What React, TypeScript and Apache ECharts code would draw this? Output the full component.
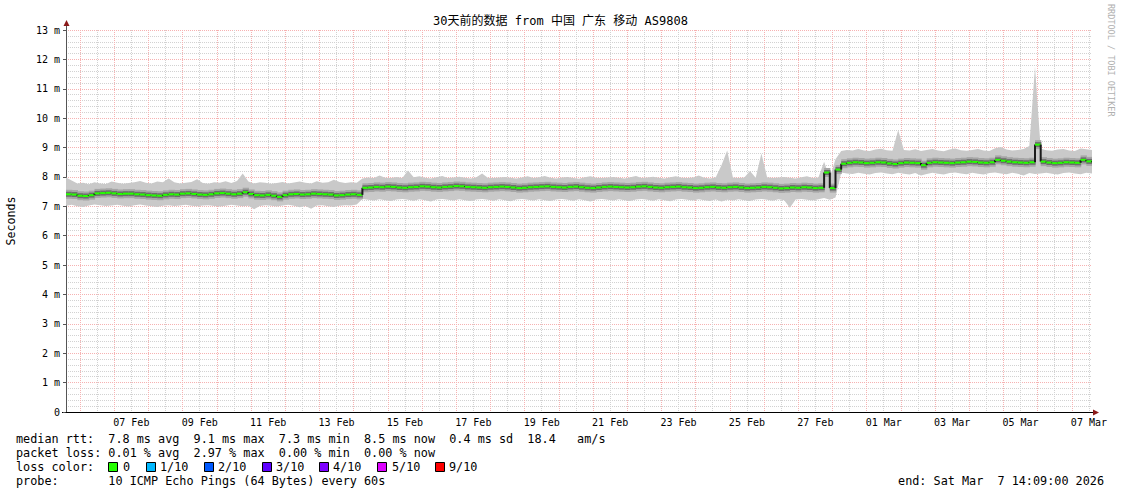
import { useEffect, useRef } from 'react';
import * as echarts from 'echarts';

const TITLE = '30天前的数据 from 中国 广东 移动 AS9808';
const WATERMARK = 'RRDTOOL / TOBI OETIKER';
const Y_NAME = 'Seconds';
// time axis in hours after Feb 5 00:00 (2026)
const START_HOUR = 14.15; // Feb 5 14:09
const END_HOUR = 734.15; // Mar 7 14:09
const STEP_HOURS = 4;

const xLabels = ['07 Feb', '09 Feb', '11 Feb', '13 Feb', '15 Feb', '17 Feb', '19 Feb', '21 Feb', '23 Feb', '25 Feb', '27 Feb', '01 Mar', '03 Mar', '05 Mar', '07 Mar'];
const xLabelHours = [60, 108, 156, 204, 252, 300, 348, 396, 444, 492, 540, 588, 636, 684, 732];
const dayLineHours = [24, 48, 72, 96, 120, 144, 168, 192, 216, 240, 264, 288, 312, 336, 360, 384, 408, 432, 456, 480, 504, 528, 552, 576, 600, 624, 648, 672, 696, 720];
const halfDayLineHours = [36, 60, 84, 108, 132, 156, 180, 204, 228, 252, 276, 300, 324, 348, 372, 396, 420, 444, 468, 492, 516, 540, 564, 588, 612, 636, 660, 684, 708, 732];

// median rtt in ms, one value every 4 hours
const medianRtt = [
  7.41, 7.40, 7.36, 7.35, 7.38, 7.44, 7.45, 7.46, 7.44, 7.42,
  7.43, 7.43, 7.41, 7.40, 7.38, 7.37, 7.36, 7.39, 7.41, 7.40,
  7.43, 7.44, 7.42, 7.40, 7.39, 7.41, 7.44, 7.45, 7.43, 7.41,
  7.43, 7.48, 7.42, 7.38, 7.37, 7.39, 7.36, 7.32, 7.38, 7.41,
  7.42, 7.40, 7.41, 7.43, 7.42, 7.41, 7.40, 7.37, 7.38, 7.40,
  7.41, 7.39, 7.63, 7.64, 7.66, 7.65, 7.67, 7.66, 7.64, 7.63,
  7.65, 7.66, 7.68, 7.67, 7.65, 7.64, 7.66, 7.67, 7.69, 7.68,
  7.66, 7.65, 7.64, 7.63, 7.65, 7.66, 7.67, 7.66, 7.64, 7.62,
  7.63, 7.65, 7.66, 7.67, 7.68, 7.66, 7.65, 7.64, 7.66, 7.67,
  7.65, 7.63, 7.62, 7.64, 7.66, 7.67, 7.66, 7.65, 7.64, 7.65,
  7.67, 7.68, 7.66, 7.64, 7.63, 7.65, 7.66, 7.67, 7.65, 7.64,
  7.62, 7.63, 7.65, 7.66, 7.64, 7.63, 7.65, 7.66, 7.64, 7.62,
  7.63, 7.64, 7.66, 7.65, 7.63, 7.61, 7.62, 7.64, 7.63, 7.65,
  7.64, 7.62, 7.63, 8.15, 7.62, 8.25, 8.45, 8.48, 8.50, 8.49,
  8.47, 8.48, 8.50, 8.49, 8.46, 8.44, 8.47, 8.49, 8.48, 8.47,
  8.40, 8.48, 8.50, 8.49, 8.48, 8.47, 8.49, 8.50, 8.52, 8.51,
  8.49, 8.48, 8.50, 8.58, 8.55, 8.52, 8.50, 8.49, 8.48, 8.50,
  9.10, 8.52, 8.49, 8.47, 8.48, 8.50, 8.49, 8.48, 8.58, 8.53,
  8.50,
];

// upper edge of the smoke (highest ping) in ms
const smokeHi = [
  7.98, 7.88, 7.78, 7.80, 7.75, 7.82, 7.78, 7.76, 7.84, 7.80,
  7.77, 7.79, 7.82, 7.86, 7.80, 7.78, 7.84, 7.82, 7.95, 7.82,
  7.78, 7.80, 7.83, 7.92, 7.79, 7.77, 7.82, 7.80, 7.85, 7.79,
  7.86, 8.12, 7.84, 7.78, 7.82, 7.80, 7.77, 7.79, 7.83, 7.78,
  7.81, 7.84, 7.80, 7.78, 7.85, 7.80, 7.82, 7.90, 7.83, 7.79,
  7.82, 7.80, 7.95, 7.98, 7.96, 8.05, 7.97, 7.96, 8.00, 7.96,
  8.22, 7.99, 8.02, 7.97, 7.95, 7.99, 8.03, 7.96, 7.98, 8.01,
  7.97, 7.95, 7.99, 8.12, 7.97, 7.96, 7.98, 8.00, 7.97, 7.95,
  7.98, 8.02, 7.96, 7.99, 8.03, 7.97, 7.95, 7.98, 8.00, 7.96,
  7.94, 7.99, 8.02, 7.97, 7.96, 7.98, 8.00, 7.97, 7.95, 7.99,
  8.03, 7.96, 7.98, 8.01, 7.97, 7.95, 7.99, 8.02, 7.97, 7.96,
  7.98, 8.05, 7.97, 7.95, 7.99, 8.40, 8.90, 7.98, 7.96, 7.98,
  8.20, 7.97, 8.80, 7.99, 7.96, 7.98, 8.00, 7.97, 7.95, 7.99,
  8.02, 7.96, 7.98, 8.52, 7.98, 8.60, 8.88, 8.92, 8.90, 8.95,
  8.90, 8.88, 8.93, 8.96, 8.91, 8.89, 9.60, 8.92, 8.90, 8.94,
  8.88, 8.92, 8.95, 8.90, 8.87, 8.93, 8.97, 8.91, 8.89, 8.92,
  8.95, 8.90, 8.88, 8.98, 9.02, 8.93, 8.90, 8.92, 8.95, 9.05,
  11.75, 8.96, 8.91, 8.89, 8.93, 8.95, 8.90, 8.88, 8.97, 8.94,
  8.92,
];

// lower edge of the smoke (lowest ping) in ms
const smokeLo = [
  7.02, 7.05, 7.00, 6.98, 7.03, 7.06, 7.04, 7.01, 7.03, 7.05,
  7.02, 6.99, 7.04, 7.06, 7.03, 7.00, 6.98, 7.02, 7.04, 7.01,
  7.03, 7.05, 7.02, 7.00, 7.03, 7.04, 7.01, 6.99, 7.02, 7.05,
  7.03, 7.00, 7.02, 6.90, 7.01, 7.04, 7.02, 6.99, 7.03, 7.05,
  7.02, 6.97, 7.01, 6.92, 7.03, 7.04, 7.00, 6.98, 7.02, 7.04,
  7.03, 7.06, 7.25, 7.22, 7.20, 7.24, 7.21, 7.18, 7.23, 7.25,
  7.22, 7.19, 7.24, 7.21, 7.16, 7.23, 7.25, 7.22, 7.20, 7.24,
  7.21, 7.18, 7.23, 7.25, 7.22, 7.19, 7.24, 7.21, 7.17, 7.23,
  7.25, 7.22, 7.20, 7.24, 7.21, 7.18, 7.23, 7.25, 7.22, 7.19,
  7.24, 7.21, 7.16, 7.23, 7.25, 7.22, 7.20, 7.24, 7.21, 7.18,
  7.23, 7.25, 7.22, 7.19, 7.24, 7.21, 7.17, 7.23, 7.25, 7.22,
  7.20, 7.24, 7.21, 7.18, 7.23, 7.16, 7.22, 7.20, 7.24, 7.21,
  7.18, 7.23, 7.25, 7.22, 7.19, 7.24, 7.21, 6.95, 7.23, 7.25,
  7.22, 7.20, 7.24, 7.28, 7.22, 7.30, 8.15, 8.12, 8.10, 8.14,
  8.11, 8.08, 8.13, 8.15, 8.12, 8.09, 8.14, 8.11, 8.08, 8.13,
  8.05, 8.10, 8.14, 8.11, 8.08, 8.13, 8.15, 8.12, 8.09, 8.14,
  8.11, 8.08, 8.13, 8.15, 8.12, 8.09, 8.14, 8.11, 8.05, 8.13,
  8.10, 8.12, 8.14, 8.11, 8.08, 8.13, 8.15, 8.12, 8.09, 8.14,
  8.12,
];

const statsLines = [
  'median rtt:  7.8 ms avg  9.1 ms max  7.3 ms min  8.5 ms now  0.4 ms sd  18.4   am/s',
  'packet loss: 0.01 % avg  2.97 % max  0.00 % min  0.00 % now',
];
const lossTitle = 'loss color:';
const lossLabels = ['0', '1/10', '2/10', '3/10', '4/10', '5/10', '9/10'];
const lossColors = ['#26ff00', '#00b8ff', '#0059ff', '#5e00ff', '#7e00ff', '#dd00ff', '#ff0000'];
const probeText = 'probe:       10 ICMP Echo Pings (64 Bytes) every 60s';
const endText = 'end: Sat Mar  7 14:09:00 2026';

const MONO = '"DejaVu Sans Mono", "Noto Sans CJK SC", monospace';

export default function App() {
  const ref = useRef<HTMLDivElement>(null);

  useEffect(() => {
    if (!ref.current) return;
    const chart = echarts.init(ref.current, undefined, { renderer: 'svg' });

    const timeAt = (i: number) => START_HOUR + STEP_HOURS * i;
    const medianData = medianRtt.map((v, i) => [timeAt(i), v]);
    const smokeData = smokeLo.map((lo, i) => [timeAt(i), lo, smokeHi[i]]);

    const legendY = [439, 453, 467, 481];
    const squareX = [108, 146, 204, 262, 319, 377, 435];
    const labelX = [123, 160, 218, 276, 333, 392, 449];

    const graphic: any[] = [
      {
        type: 'text', x: 560.5, y: 21,
        style: { text: TITLE, font: `12px ${MONO}`, fill: '#000', align: 'center', verticalAlign: 'middle' },
      },
      {
        type: 'text', x: 1111, y: 4, rotation: -Math.PI / 2,
        style: { text: WATERMARK, font: `8.5px ${MONO}`, fill: '#b0b0b0', align: 'left', verticalAlign: 'middle' },
      },
      // axis arrows
      { type: 'line', shape: { x1: 66.5, y1: 30, x2: 66.5, y2: 24 }, style: { stroke: '#555', lineWidth: 1 } },
      { type: 'polygon', shape: { points: [[63.5, 26], [66.5, 20], [69.5, 26]] }, style: { fill: '#8b1a1a' } },
      { type: 'line', shape: { x1: 62, y1: 412.5, x2: 66, y2: 412.5 }, style: { stroke: '#000', lineWidth: 1 } },
      { type: 'line', shape: { x1: 1092, y1: 412.5, x2: 1094, y2: 412.5 }, style: { stroke: '#000', lineWidth: 1 } },
      { type: 'polygon', shape: { points: [[1093, 409.5], [1099, 412.5], [1093, 415.5]] }, style: { fill: '#8b1a1a' } },
    ];
    statsLines.forEach((t, k) => {
      graphic.push({ type: 'text', x: 16, y: legendY[k], style: { text: t, font: `11.8px ${MONO}`, fill: '#000', verticalAlign: 'middle' } });
    });
    graphic.push({ type: 'text', x: 16, y: legendY[2], style: { text: lossTitle, font: `11.8px ${MONO}`, fill: '#000', verticalAlign: 'middle' } });
    lossLabels.forEach((t, k) => {
      graphic.push({ type: 'rect', shape: { x: squareX[k] + 0.5, y: legendY[2] - 4.5, width: 9, height: 9 }, style: { fill: lossColors[k], stroke: '#000', lineWidth: 1 } });
      graphic.push({ type: 'text', x: labelX[k], y: legendY[2], style: { text: t, font: `11.8px ${MONO}`, fill: '#000', verticalAlign: 'middle' } });
    });
    graphic.push({ type: 'text', x: 16, y: legendY[3], style: { text: probeText, font: `11.8px ${MONO}`, fill: '#000', verticalAlign: 'middle' } });
    graphic.push({ type: 'text', x: 1104, y: legendY[3], style: { text: endText, font: `11.8px ${MONO}`, fill: '#000', align: 'right', verticalAlign: 'middle' } });

    chart.setOption({
      animation: false,
      backgroundColor: '#fff',
      textStyle: { fontFamily: MONO },
      grid: { left: 66, right: 29, top: 30, bottom: 82, containLabel: false, outerBoundsMode: 'none' },
      xAxis: [
        {
          type: 'value', min: START_HOUR, max: END_HOUR,
          axisLine: { show: true, lineStyle: { color: '#000', width: 1 } },
          axisTick: { show: false, customValues: dayLineHours },
          axisLabel: {
            show: true, customValues: xLabelHours, margin: 5,
            fontFamily: MONO, fontSize: 10, color: '#000',
            formatter: (v: number) => { const k = xLabelHours.indexOf(Math.round(v)); return k >= 0 ? xLabels[k] : ''; },
          },
          splitLine: { show: true, lineStyle: { color: '#f6b2b2', type: 'dotted', width: 1 } },
          z: 1,
        },
        {
          type: 'value', min: START_HOUR, max: END_HOUR, position: 'bottom',
          axisLine: { show: false }, axisLabel: { show: false },
          axisTick: { show: false, customValues: halfDayLineHours },
          splitLine: { show: true, lineStyle: { color: '#d2d2d2', type: 'dotted', width: 1 } },
          z: 0,
        },
      ],
      yAxis: {
        type: 'value', min: 0, max: 13, interval: 1,
        name: Y_NAME, nameLocation: 'middle', nameGap: 49, nameRotate: 90, nameMoveOverlap: false,
        nameTextStyle: { fontFamily: MONO, fontSize: 11.6, color: '#000' },
        axisLine: { show: true, lineStyle: { color: '#555', width: 1 } },
        axisTick: { show: true, length: 3, lineStyle: { color: '#555' } },
        axisLabel: { fontFamily: MONO, fontSize: 10, color: '#000', margin: 6, formatter: (v: number) => (v === 0 ? '0' : `${v} m`) },
        splitLine: { show: true, lineStyle: { color: '#f6b2b2', type: 'dotted', width: 1 } },
        minorTick: { show: false, splitNumber: 5 },
        minorSplitLine: { show: true, lineStyle: { color: '#d2d2d2', type: 'dotted', width: 1 } },
      },
      series: [
        {
          name: 'smoke', type: 'custom', xAxisIndex: 0, data: smokeData, clip: true, silent: true, z: 2,
          encode: { x: 0, y: [1, 2] },
          renderItem: (params: any, api: any) => {
            if (params.dataIndex !== 0) return null;
            const upper: number[][] = [];
            const lower: number[][] = [];
            for (let i = 0; i < smokeData.length; i++) {
              upper.push(api.coord([smokeData[i][0], smokeData[i][2]]));
              lower.push(api.coord([smokeData[i][0], smokeData[i][1]]));
            }
            return {
              type: 'polygon',
              shape: { points: upper.concat(lower.reverse()) },
              style: { fill: '#c9c9c9', stroke: 'none' },
            };
          },
        },
        {
          name: 'smoke-core', type: 'custom', xAxisIndex: 0, data: medianData, clip: true, silent: true, z: 3,
          encode: { x: 0, y: 1 },
          renderItem: (params: any, api: any) => {
            const i = params.dataIndex;
            if (i >= medianData.length - 1) return null;
            const p0 = api.coord([api.value(0), api.value(1)]);
            const p1 = api.coord(medianData[i + 1]);
            const w = p1[0] - p0[0] + 0.6;
            return {
              type: 'group',
              children: [
                { type: 'rect', shape: { x: p0[0], y: p0[1] - 4.5, width: w, height: 9 }, style: { fill: '#a6a6a6' } },
                { type: 'rect', shape: { x: p0[0], y: p0[1] - 2.5, width: w, height: 5 }, style: { fill: '#6c6c6c' } },
              ],
            };
          },
        },
        {
          name: 'median rtt', type: 'custom', xAxisIndex: 0, data: medianData, clip: true, silent: true, z: 4,
          encode: { x: 0, y: 1 },
          renderItem: (params: any, api: any) => {
            const i = params.dataIndex;
            if (i >= medianData.length - 1) return null;
            const p0 = api.coord([api.value(0), api.value(1)]);
            const p1 = api.coord(medianData[i + 1]);
            return {
              type: 'group',
              children: [
                { type: 'line', shape: { x1: p0[0], y1: p0[1], x2: p1[0], y2: p0[1] }, style: { stroke: '#26ff00', lineWidth: 2 } },
                { type: 'line', shape: { x1: p1[0], y1: p0[1], x2: p1[0], y2: p1[1] }, style: { stroke: '#1a1a1a', lineWidth: 2 } },
              ],
            };
          },
        },
      ],
      graphic,
    });

    return () => chart.dispose();
  }, []);

  return <div ref={ref} style={{ position: 'fixed', left: 0, top: 0, width: 1121, height: 494, background: '#fff' }} />;
}
